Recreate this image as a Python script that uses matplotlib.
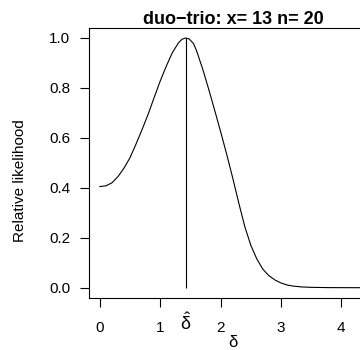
import matplotlib.pyplot as plt

plt.rcParams['font.family'] = ['Liberation Sans', 'DejaVu Sans']
plt.rcParams['mathtext.fontset'] = 'custom'
plt.rcParams['mathtext.rm'] = 'Liberation Sans'
plt.rcParams['mathtext.it'] = 'Liberation Sans'
plt.rcParams['mathtext.bf'] = 'Liberation Sans:bold'

# relative likelihood profile
delta = [0.0, 0.1, 0.2, 0.3, 0.4, 0.5, 0.6, 0.7, 0.8, 0.9,
         1.0, 1.1, 1.2, 1.3, 1.36, 1.42, 1.48, 1.55, 1.6, 1.7,
         1.8, 1.9, 2.0, 2.1, 2.2, 2.3, 2.4, 2.5, 2.6, 2.7,
         2.8, 2.9, 3.0, 3.1, 3.2, 3.35, 3.5, 3.8, 4.2, 4.7]
rel_lik = [0.405, 0.408, 0.420, 0.445, 0.479, 0.521, 0.576, 0.634, 0.695, 0.762,
           0.828, 0.887, 0.941, 0.980, 0.995, 1.0, 0.996, 0.978, 0.950, 0.878,
           0.797, 0.712, 0.625, 0.535, 0.440, 0.340, 0.245, 0.170, 0.115, 0.074,
           0.048, 0.031, 0.019, 0.011, 0.0065, 0.003, 0.0015, 0.0004, 0.0001, 0.0]
delta_hat = 1.42
x_ticks = [0, 1, 2, 3, 4]
y_ticks = [0.0, 0.2, 0.4, 0.6, 0.8, 1.0]
title = "duo\u2212trio: x= 13 n= 20"

fig = plt.figure(figsize=(3.6, 3.5), dpi=100)
# axes run past the right edge, like the cropped reference
ax = fig.add_axes([89/360, 1 - 297.7/350, 291/360, 269.7/350])

ax.plot(delta, rel_lik, color='black', lw=0.8)
ax.vlines(delta_hat, 0, 1, color='black', lw=0.8)

ax.set_xlim(-0.18, 4.64)
ax.set_ylim(-0.04, 1.04)
ax.set_xticks(x_ticks)
ax.set_xticklabels([str(t) for t in x_ticks])
ax.set_yticks(y_ticks)
ax.set_yticklabels(['%.1f' % t for t in y_ticks])
ax.tick_params(axis='x', direction='out', length=6.7, width=0.8, pad=10, labelsize=11)
ax.tick_params(axis='y', direction='out', length=6.5, width=0.8, pad=7, labelsize=11)
for s in ax.spines.values():
    s.set_linewidth(0.8)

# delta-hat label under the axis, no tick mark
ax.text(delta_hat, -0.14, r'$\hat{\delta}$', ha='center', va='center',
        fontsize=13, fontweight='bold', transform=ax.transData, clip_on=False)

fig.text(233/360, 1 - 342/350, r'$\delta$', ha='center', va='center', fontsize=12)
fig.text(20/360, 1 - 181/350, 'Relative likelihood', rotation=90,
         ha='center', va='center', fontsize=11)
fig.text(233/360, 1 - 20/350, title, ha='center', va='center',
         fontsize=13, fontweight='bold')

fig.savefig('out.png', dpi=100)
